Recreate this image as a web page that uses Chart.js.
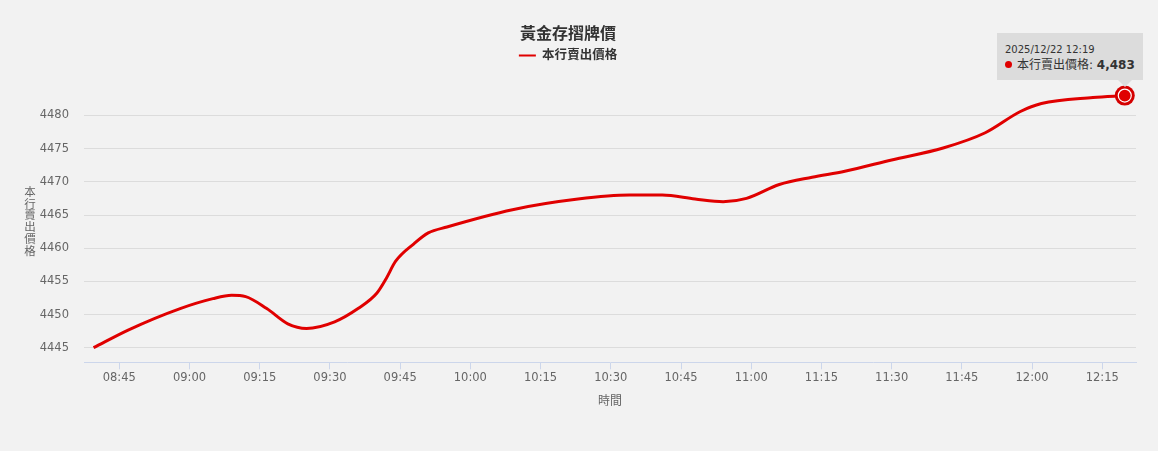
<!DOCTYPE html>
<html>
<head>
<meta charset="utf-8">
<script src="https://cdn.jsdelivr.net/npm/chart.js@4.4.1/dist/chart.umd.min.js"></script>
<style>
  html, body { margin: 0; padding: 0; background: #f2f2f2; }
  #wrap { position: relative; width: 1158px; height: 451px; }
  #tip {
    position: absolute; opacity: 0; pointer-events: none; white-space: nowrap;
    background: #dcdcdc; color: #333; padding: 10px 8px 7px 8px;
    font-family: "DejaVu Sans", "Noto Sans CJK TC", sans-serif;
  }
  #tip .t { font-size: 10px; line-height: 14px; }
  #tip .b { font-size: 12px; line-height: 16px; }
  #tip .dot { display: inline-block; width: 7px; height: 7px; border-radius: 50%; background: #e00000; margin: 0 5px 1px 0; }
  #tip::after {
    content: ""; position: absolute; top: 100%; left: var(--cx, 50%); margin-left: -7px;
    border: 7px solid transparent; border-top-color: #dcdcdc; border-bottom: 0;
  }
</style>
</head>
<body>
<div id="wrap">
  <canvas id="chart" width="1158" height="451"></canvas>
  <div id="tip"></div>
</div>
<script>
const chartTitle = "黃金存摺牌價";
const seriesName = "本行賣出價格";
const xTitle = "時間";
const dateLabel = "2025/12/22";

// Sample times and prices
const times = [
  "08:39:30", "08:47", "08:58", "09:05", "09:09", "09:12", "09:16:30", "09:21",
  "09:25", "09:31", "09:36", "09:40", "09:42", "09:44", "09:48", "09:51",
  "09:55", "10:09", "10:23", "10:34", "10:41", "10:48", "10:54", "10:59",
  "11:06", "11:13", "11:20", "11:30", "11:41", "11:50", "11:57:30", "12:02",
  "12:13", "12:19:48",
];
const prices = [
  4445.0, 4447.7, 4450.9, 4452.4, 4452.9, 4452.7, 4450.9, 4448.6,
  4447.9, 4448.9, 4450.9, 4453.2, 4455.4, 4458.0, 4460.7, 4462.3,
  4463.2, 4465.8, 4467.4, 4468.0, 4468.0, 4467.4, 4467.0, 4467.5,
  4469.6, 4470.7, 4471.6, 4473.3, 4475.1, 4477.4, 4480.6, 4481.8,
  4482.7, 4483.0,
];
const xTickLabels = [
  "08:45", "09:00", "09:15", "09:30", "09:45", "10:00", "10:15", "10:30",
  "10:45", "11:00", "11:15", "11:30", "11:45", "12:00", "12:15",
];
const yTicks = [4445, 4450, 4455, 4460, 4465, 4470, 4475, 4480];

const FONT = '"DejaVu Sans", "Noto Sans CJK TC", sans-serif';
const RED = "#e00000";

// "HH:MM[:SS]" -> minutes since midnight
const toMin = (s) => {
  const p = s.split(":").map(Number);
  return p[0] * 60 + p[1] + (p[2] || 0) / 60;
};
const toLabel = (m) => {
  const h = Math.floor(m / 60), mm = Math.round(m % 60);
  return String(h).padStart(2, "0") + ":" + String(mm).padStart(2, "0");
};

const points = times.map((t, i) => ({ x: toMin(t), y: prices[i] }));
const last = points.length - 1;

Chart.defaults.font.family = FONT;

// Upright stacked y axis title + highlighted last point
const extras = {
  id: "extras",
  afterDatasetsDraw(chart) {
    const { ctx } = chart;
    const pt = chart.getDatasetMeta(0).data[last];
    ctx.save();
    ctx.beginPath();
    ctx.arc(pt.x, pt.y, 10, 0, Math.PI * 2);
    ctx.fillStyle = "#d40000";
    ctx.fill();
    ctx.beginPath();
    ctx.arc(pt.x, pt.y, 6.5, 0, Math.PI * 2);
    ctx.fillStyle = RED;
    ctx.fill();
    ctx.lineWidth = 1.2;
    ctx.strokeStyle = "#ffffff";
    ctx.stroke();
    ctx.restore();
  },
  afterDraw(chart) {
    const { ctx } = chart;
    const y = chart.scales.y;
    const chars = Array.from(seriesName);
    const step = 11.7;
    const cy = (y.getPixelForValue(4442.8) + y.getPixelForValue(4485)) / 2;
    ctx.save();
    ctx.font = "11.5px " + FONT;
    ctx.fillStyle = "#666666";
    ctx.textAlign = "center";
    ctx.textBaseline = "middle";
    chars.forEach((c, i) => {
      ctx.fillText(c, 30, cy + (i - (chars.length - 1) / 2) * step);
    });
    ctx.restore();
  },
};

const tipEl = document.getElementById("tip");
const externalTooltip = ({ chart, tooltip }) => {
  if (tooltip.opacity === 0) { tipEl.style.opacity = 0; return; }
  const i = tooltip.dataPoints[0].dataIndex;
  const v = Math.round(prices[i]).toLocaleString("en-US");
  tipEl.innerHTML =
    '<div class="t">' + dateLabel + " " + times[i].slice(0, 5) + "</div>" +
    '<div class="b"><span class="dot"></span>' + seriesName + ": <b>" + v + "</b></div>";
  const w = tipEl.offsetWidth, h = tipEl.offsetHeight;
  const left = Math.min(tooltip.caretX - w / 2, chart.width - 15 - w);
  tipEl.style.left = left + "px";
  tipEl.style.top = (tooltip.caretY - 16 - h) + "px";
  tipEl.style.setProperty("--cx", (tooltip.caretX - left) + "px");
  tipEl.style.opacity = 1;
};

const chart = new Chart(document.getElementById("chart"), {
  type: "line",
  plugins: [extras],
  data: {
    datasets: [{
      label: seriesName,
      data: points,
      borderColor: RED,
      backgroundColor: RED,
      borderWidth: 3,
      cubicInterpolationMode: "monotone",
      pointRadius: 0,
      pointHoverRadius: 0,
      pointHitRadius: 0,
    }],
  },
  options: {
    responsive: false,
    animation: false,
    events: [],
    layout: { padding: { left: 0, right: 22, top: 0, bottom: 41.5 } },
    plugins: {
      title: {
        display: true,
        text: chartTitle,
        color: "#333333",
        font: { size: 16, weight: "bold" },
        padding: { top: 25, bottom: 2 },
      },
      legend: {
        display: true,
        labels: {
          color: "#333333",
          font: { size: 12.5, weight: "bold" },
          usePointStyle: true,
          pointStyleWidth: 17,
          padding: 3,
          generateLabels: () => [{
            text: seriesName, fillStyle: RED, strokeStyle: RED, lineWidth: 2,
            pointStyle: "line", hidden: false, datasetIndex: 0, fontColor: "#333333",
          }],
        },
      },
      tooltip: { enabled: false, external: externalTooltip, mode: "nearest", intersect: false },
    },
    scales: {
      x: {
        type: "linear",
        min: 517.46,
        max: 742.2,
        afterBuildTicks: (s) => { s.ticks = xTickLabels.map((l) => ({ value: toMin(l) })); },
        ticks: {
          color: "#666666",
          font: { size: 11.5 },
          padding: 2,
          maxRotation: 0,
          autoSkip: false,
          callback: (v) => toLabel(v),
        },
        grid: { drawOnChartArea: false, drawTicks: true, tickLength: 7, color: "#ccd6eb", tickColor: "#ccd6eb" },
        border: { color: "#ccd6eb", width: 1 },
        title: { display: true, text: xTitle, color: "#666666", font: { size: 12 }, padding: { top: 8, bottom: 0 } },
      },
      y: {
        min: 4442.8,
        max: 4486.6,
        afterBuildTicks: (s) => { s.ticks = yTicks.map((v) => ({ value: v })); },
        afterFit: (s) => { s.width = 84; },
        ticks: { color: "#666666", font: { size: 11.5 }, padding: 15, callback: (v) => String(v) },
        grid: { color: "#dcdcdc", drawTicks: false },
        border: { display: false },
      },
    },
  },
});

chart.setActiveElements([{ datasetIndex: 0, index: last }]);
const lp = chart.getDatasetMeta(0).data[last];
chart.tooltip.setActiveElements([{ datasetIndex: 0, index: last }], { x: lp.x, y: lp.y });
chart.update();
</script>
</body>
</html>
